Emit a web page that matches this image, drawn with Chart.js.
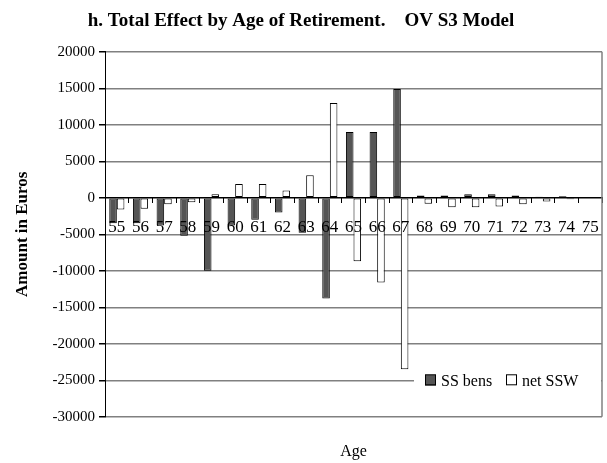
<!DOCTYPE html>
<html>
<head>
<meta charset="utf-8">
<script src="https://cdn.jsdelivr.net/npm/chart.js@4.4.0/dist/chart.umd.min.js"></script>
<style>
  html, body { margin: 0; padding: 0; background: #fff; }
  #wrap { width: 607px; height: 463px; }
</style>
</head>
<body>
<div id="wrap"><canvas id="chart" width="607" height="463"></canvas></div>
<script>
// Ages of retirement (x categories)
const ages = ['55', '56', '57', '58', '59', '60', '61', '62', '63', '64', '65',
              '66', '67', '68', '69', '70', '71', '72', '73', '74', '75'];

// Amounts in euros
const ssBens = [-3500, -3500, -3800, -5200, -10000, -3800, -3000, -2000, -4800, -13800, 9000,
                9000, 14900, 300, 300, 500, 500, 300, 150, 200, 0];
const netSSW = [-1600, -1500, -900, -600, 500, 1900, 1900, 1000, 3100, 13000, -8700,
                -11600, -23500, -800, -1300, -1300, -1200, -900, -500, -200, 0];

const seriesNames = ['SS bens', 'net SSW'];
const yMin = -30000;
const yMax = 20000;
const yStep = 5000;

const FONT = '"Liberation Serif", "Times New Roman", serif';

// legend drawn inside the plot, bottom right, plus the right frame line
const insideLegend = {
  id: 'insideLegend',
  afterDraw(chart) {
    const { ctx, chartArea } = chart;
    const yMid = chart.scales.y.getPixelForValue(-25000);
    ctx.save();
    ctx.fillStyle = '#fff';
    ctx.fillRect(chartArea.right - 188, yMid - 10, 187, 20);

    ctx.font = '16px ' + FONT;
    ctx.textBaseline = 'middle';
    const starts = [chartArea.right - 177, chartArea.right - 96];
    chart.data.datasets.forEach((ds, i) => {
      const x = starts[i];
      ctx.fillStyle = ds.backgroundColor;
      ctx.fillRect(x, yMid - 5.5, 11, 11);
      ctx.strokeStyle = '#000';
      ctx.lineWidth = 1;
      ctx.strokeRect(x + 0.5, yMid - 5.5, 10, 10);
      ctx.fillStyle = '#000';
      ctx.fillText(ds.label, x + 16, yMid + 1);
    });

    // right frame
    ctx.strokeStyle = '#808080';
    ctx.lineWidth = 1.5;
    ctx.beginPath();
    ctx.moveTo(chartArea.right, chartArea.top);
    ctx.lineTo(chartArea.right, chartArea.bottom);
    ctx.stroke();
    ctx.restore();
  }
};

new Chart(document.getElementById('chart'), {
  type: 'bar',
  data: {
    labels: ages,
    datasets: [
      {
        label: seriesNames[0],
        data: ssBens,
        backgroundColor: '#555555',
        borderColor: '#000',
        borderWidth: 1,
        borderSkipped: false
      },
      {
        label: seriesNames[1],
        data: netSSW,
        backgroundColor: '#ffffff',
        borderColor: '#000',
        borderWidth: 1,
        borderSkipped: false
      }
    ]
  },
  options: {
    responsive: false,
    animation: false,
    categoryPercentage: 0.64,
    barPercentage: 1.0,
    layout: { padding: { left: 0, right: 5, top: 0, bottom: 0 } },
    plugins: {
      legend: { display: false },
      tooltip: { enabled: false },
      title: {
        display: true,
        text: 'h. Total Effect by Age of Retirement.    OV S3 Model',
        color: '#000',
        font: { family: FONT, size: 19, weight: 'bold' },
        padding: { top: 10, bottom: 19 }
      },
      subtitle: {
        display: true,
        position: 'bottom',
        fullSize: false,
        text: 'Age',
        color: '#000',
        font: { family: FONT, size: 16 },
        padding: { top: 25, bottom: 2 }
      }
    },
    scales: {
      x: {
        position: { y: 0 },
        afterFit(scale) { scale.paddingLeft = 0; scale.paddingRight = 0; },
        grid: {
          drawOnChartArea: false,
          drawTicks: true,
          tickLength: 5,
          tickColor: '#000',
          z: 1
        },
        border: { color: '#000', width: 1, z: 1 },
        ticks: {
          color: '#000',
          font: { family: FONT, size: 17 },
          padding: 15,
          maxRotation: 0,
          autoSkip: false,
          z: 1
        }
      },
      y: {
        min: yMin,
        max: yMax,
        afterFit(scale) { scale.width = 105; },
        grid: {
          color: ctx => (ctx.tick && ctx.tick.value === 0) ? '#000' : '#808080',
          lineWidth: 1.5,
          tickLength: 6,
          tickColor: '#000'
        },
        border: { color: '#000', width: 1 },
        ticks: {
          stepSize: yStep,
          color: '#000',
          font: { family: FONT, size: 15 },
          padding: 4,
          callback: v => String(v)
        },
        title: {
          display: true,
          text: 'Amount in Euros',
          color: '#000',
          font: { family: FONT, size: 17, weight: 'bold' },
          padding: { top: 12, bottom: 0 }
        }
      }
    }
  },
  plugins: [insideLegend]
});
</script>
</body>
</html>
